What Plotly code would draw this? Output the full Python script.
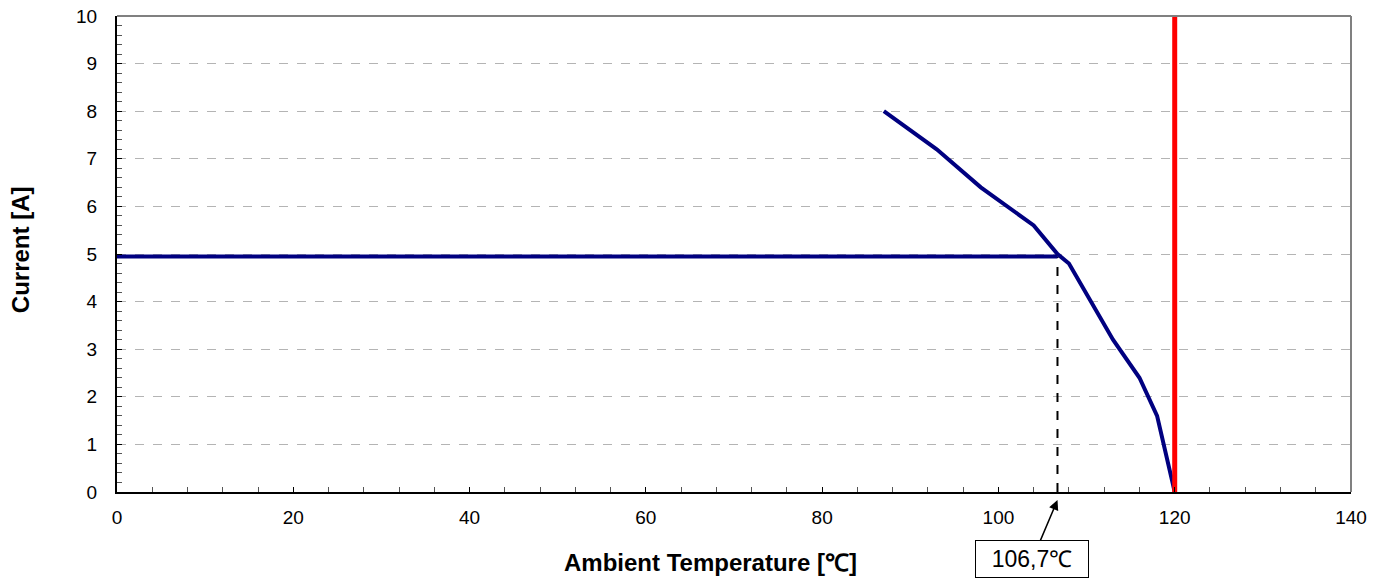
import plotly.graph_objects as go

# Data
derating_temp = [87, 93, 98, 104, 106.7, 108, 113, 116, 118, 119, 120]
derating_current = [8.0, 7.2, 6.4, 5.6, 5.0, 4.8, 3.2, 2.4, 1.6, 0.8, 0.0]
rated_temp = [0, 106.7]
rated_current = [4.95, 4.95]
marker_temp = [106.7, 106.7]
marker_current = [0, 4.95]
limit_temp = [120, 120]
limit_current = [0, 10]
x_ticks = [0, 20, 40, 60, 80, 100, 120, 140]
y_ticks = list(range(0, 11))
label_temp = 106.7
label_text = "106,7℃"
x_title = "Ambient Temperature [℃]"
y_title = "Current [A]"

FONT = "Liberation Sans, Arial, sans-serif"

fig = go.Figure()
fig.add_trace(go.Scatter(x=marker_temp, y=marker_current, mode="lines",
                         line=dict(color="black", width=2, dash="dash"),
                         showlegend=False, hoverinfo="skip"))
fig.add_trace(go.Scatter(x=rated_temp, y=rated_current, mode="lines",
                         line=dict(color="#000080", width=4),
                         showlegend=False))
fig.add_trace(go.Scatter(x=derating_temp, y=derating_current, mode="lines",
                         line=dict(color="#000080", width=4),
                         showlegend=False))
fig.add_trace(go.Scatter(x=limit_temp, y=limit_current, mode="lines",
                         line=dict(color="#ff0000", width=5),
                         showlegend=False, cliponaxis=False))

fig.update_layout(
    width=1381, height=579,
    margin=dict(l=117, r=30, t=16, b=87, autoexpand=False),
    paper_bgcolor="white", plot_bgcolor="white",
    font=dict(family=FONT, size=19, color="black"),
    xaxis=dict(
        range=[0, 140], tickvals=x_ticks, ticktext=[str(v) for v in x_ticks],
        showgrid=False, zeroline=False, automargin=False,
        showline=True, linecolor="black", linewidth=2,
        ticks="inside", ticklen=5, tickcolor="black", tickwidth=1,
        minor=dict(dtick=4, ticks="inside", ticklen=5, tickcolor="#555555", showgrid=False),
        ticklabelstandoff=7,
    ),
    yaxis=dict(
        range=[0, 10], tickvals=y_ticks, ticktext=[str(v) for v in y_ticks],
        showgrid=True, gridcolor="#b4b4b4", griddash="dash", gridwidth=1,
        zeroline=False, automargin=False,
        showline=True, linecolor="black", linewidth=2,
        ticks="inside", ticklen=5, tickcolor="black", tickwidth=1,
        minor=dict(dtick=0.2, ticks="inside", ticklen=5, tickcolor="#555555", showgrid=False),
        ticklabelstandoff=14,
    ),
    shapes=[
        dict(type="line", xref="paper", yref="paper", x0=0, x1=1, y0=1, y1=1,
             line=dict(color="#808080", width=2)),
        dict(type="line", xref="paper", yref="paper", x0=1, x1=1, y0=0, y1=1,
             line=dict(color="#808080", width=2)),
    ],
    annotations=[
        dict(x=0.481, y=-0.149, xref="paper", yref="paper", text="<b>" + x_title + "</b>",
             showarrow=False, xanchor="center", yanchor="middle",
             font=dict(size=24, color="black", family=FONT)),
        dict(x=-0.0786, y=0.508, xref="paper", yref="paper", text="<b>" + y_title + "</b>",
             showarrow=False, xanchor="center", yanchor="middle", textangle=-90,
             font=dict(size=24, color="black", family=FONT)),
        dict(x=label_temp, y=-0.017, xref="x", yref="paper", text=label_text,
             showarrow=True, arrowhead=2, arrowsize=1.3, arrowwidth=1.5,
             arrowcolor="black", ax=-25, ay=59,
             font=dict(size=23, color="black", family=FONT),
             bordercolor="black", borderwidth=1, bgcolor="white",
             width=112, height=36, borderpad=0),
    ],
)

fig.write_html("out.html")
